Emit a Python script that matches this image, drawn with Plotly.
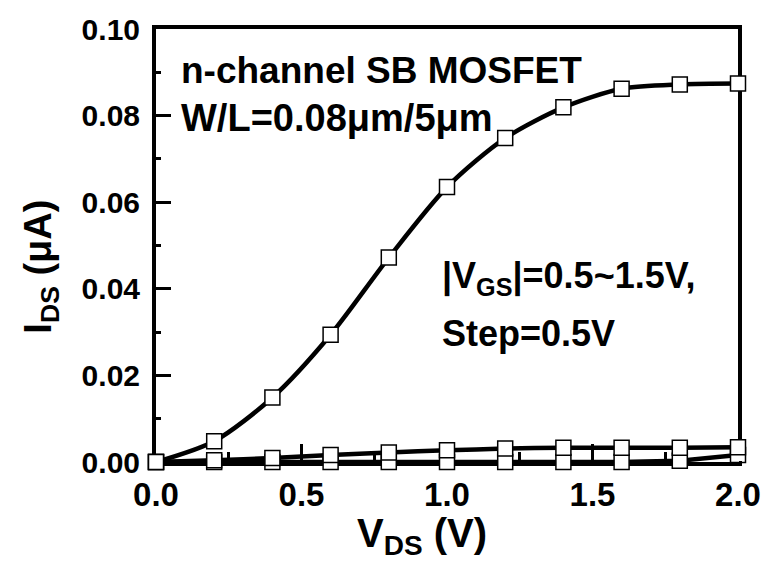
import plotly.graph_objects as go

# Drain bias sweep (V) and drain current (uA) for each gate bias
vds = [0.0, 0.2, 0.4, 0.6, 0.8, 1.0, 1.2, 1.4, 1.6, 1.8, 2.0]
ids_vgs15 = [0.0, 0.0048, 0.0149, 0.0294, 0.0472, 0.0635, 0.0748, 0.0819, 0.0862, 0.0872, 0.0874]
ids_vgs10 = [0.0, 0.0004, 0.0009, 0.0016, 0.0022, 0.0027, 0.0031, 0.0033, 0.0033, 0.0033, 0.0034]
ids_vgs05 = [0.0, 0.0, 0.0, 0.0, 0.0, 0.0, 0.0, 0.0, 0.0, 0.0003, 0.0016]

x_ticks = [0.0, 0.5, 1.0, 1.5, 2.0]
x_tick_labels = ["0.0", "0.5", "1.0", "1.5", "2.0"]
y_ticks = [0.00, 0.02, 0.04, 0.06, 0.08, 0.10]
y_tick_labels = ["0.00", "0.02", "0.04", "0.06", "0.08", "0.10"]

FONT = "Liberation Sans, Arial, Helvetica, sans-serif"

fig = go.Figure()
for ids, shape in [(ids_vgs05, "linear"), (ids_vgs10, "spline"), (ids_vgs15, "spline")]:
    fig.add_trace(go.Scatter(
        x=vds, y=ids, mode="lines+markers",
        line=dict(color="black", width=4.5, shape=shape, smoothing=0.8),
        marker=dict(symbol="square", size=15, color="white",
                    line=dict(color="black", width=1.5)),
        cliponaxis=False, showlegend=False,
    ))

axis_common = dict(
    showgrid=False, zeroline=False, showline=True, linecolor="black",
    linewidth=4, mirror=True, ticks="inside", tickcolor="black",
    tickwidth=3, layer="below traces",
)

fig.update_layout(
    width=773, height=561,
    margin=dict(l=156, r=28, t=25, b=99),
    paper_bgcolor="white", plot_bgcolor="white",
    font=dict(family=FONT, color="black"),
    xaxis=dict(
        range=[0, 2], tickvals=x_ticks, ticktext=x_tick_labels, ticklen=18,
        minor=dict(dtick=0.25, ticklen=10, tickwidth=3, tickcolor="black", ticks="inside"),
        ticklabelstandoff=0,
        tickfont=dict(family=FONT, size=33, color="black", weight="bold"),
        **axis_common,
    ),
    yaxis=dict(
        range=[0, 0.10], tickvals=y_ticks, ticktext=y_tick_labels, ticklen=15,
        minor=dict(dtick=0.01, ticklen=5, tickwidth=3, tickcolor="black", ticks="inside"),
        ticklabelstandoff=6,
        tickfont=dict(family=FONT, size=30, color="black", weight="bold"),
        **axis_common,
    ),
    xaxis2=dict(
        overlaying="x", side="top", range=[0, 2], dtick=0.25, ticks="outside",
        ticklen=3, tickwidth=2, tickcolor="black", showticklabels=False,
        showgrid=False, zeroline=False, showline=False,
    ),
    yaxis2=dict(
        overlaying="y", side="right", range=[0, 0.10], dtick=0.01, ticks="outside",
        ticklen=3, tickwidth=2, tickcolor="black", showticklabels=False,
        showgrid=False, zeroline=False, showline=False,
    ),
)

# empty trace that brings in the top/right tick axes
fig.add_trace(go.Scatter(x=[None], y=[None], xaxis="x2", yaxis="y2",
                         showlegend=False, hoverinfo="skip"))

def label(text, x, y, size, angle=0, xanchor="left"):
    fig.add_annotation(
        text=text, x=x, y=y, xref="paper", yref="paper", showarrow=False,
        xanchor=xanchor, yanchor="middle", textangle=angle,
        font=dict(family=FONT, size=size, color="black", weight="bold"),
    )

label("n-channel SB MOSFET", 0.040, 0.905, 37)
label("W/L=0.08\u03bcm/5\u03bcm", 0.040, 0.795, 38)
label("|V<sub>GS</sub>|=0.5~1.5V,", 0.488, 0.425, 36)
label("Step=0.5V", 0.488, 0.296, 36)
label("I<sub>DS</sub> (\u03bcA)", -0.197, 0.452, 38, angle=-90, xanchor="center")
label("V<sub>DS</sub> (V)", 0.457, -0.17, 40, xanchor="center")

fig.write_html("out.html")
